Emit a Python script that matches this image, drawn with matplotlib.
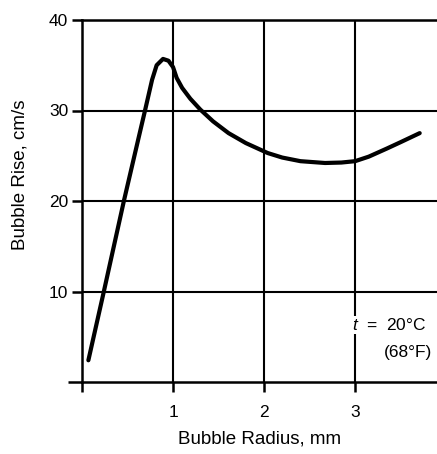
import matplotlib
matplotlib.use("Agg")
import matplotlib.pyplot as plt
from matplotlib.ticker import FixedLocator

plt.rcParams['font.family'] = ['Liberation Sans', 'DejaVu Sans']
plt.rcParams['mathtext.fontset'] = 'custom'
plt.rcParams['mathtext.it'] = 'Liberation Sans:italic'
plt.rcParams['mathtext.rm'] = 'Liberation Sans'

# bubble radius (mm) vs terminal rise velocity (cm/s) in water
radius = [0.07, 0.24, 0.46, 0.62, 0.69, 0.77, 0.82, 0.89, 0.95, 1.00,
          1.04, 1.10, 1.19, 1.30, 1.44, 1.61, 1.80, 2.04, 2.20, 2.40,
          2.67, 2.85, 3.00, 3.15, 3.35, 3.50, 3.71]
rise = [2.4, 10.0, 20.0, 26.9, 29.9, 33.4, 35.0, 35.7, 35.5, 34.8,
        33.6, 32.5, 31.3, 30.1, 28.8, 27.5, 26.4, 25.3, 24.8, 24.4,
        24.2, 24.25, 24.4, 24.9, 25.8, 26.5, 27.5]

xticks = [1, 2, 3]
yticks = [10, 20, 30, 40]

fig = plt.figure(figsize=(4.37, 4.54), dpi=100)
ax = fig.add_axes([82 / 437, 72 / 454, 355 / 437, 362 / 454])

ax.plot(radius, rise, color='black', lw=3.0, solid_capstyle='round',
        solid_joinstyle='round', zorder=3)

ax.set_xlim(0, 3.9)
ax.set_ylim(0, 40)

ax.xaxis.set_major_locator(FixedLocator(xticks))
ax.yaxis.set_major_locator(FixedLocator(yticks))
ax.xaxis.set_minor_locator(FixedLocator([0]))
ax.yaxis.set_minor_locator(FixedLocator([0]))
ax.set_xticklabels([str(v) for v in xticks])
ax.set_yticklabels([str(v) for v in yticks])

ax.tick_params(axis='x', which='both', direction='out', length=7.5,
               width=1.8, pad=9, labelsize=12.5)
ax.tick_params(axis='y', which='major', direction='out', length=7,
               width=1.8, pad=3, labelsize=12.5)
ax.tick_params(axis='y', which='minor', direction='out', length=10,
               width=1.8)

ax.grid(True, which='major', color='black', lw=1.5)
ax.set_axisbelow(True)

for side in ['left', 'bottom', 'top']:
    ax.spines[side].set_linewidth(1.8)
ax.spines['right'].set_visible(False)

ax.set_xlabel('Bubble Radius, mm', fontsize=13.5)
ax.set_ylabel('Bubble Rise, cm/s', fontsize=13.5)
ax.xaxis.set_label_coords(0.5, -0.135)
ax.yaxis.set_label_coords(-0.152, 0.572)

ax.text(3.78, 6.3, r'$t$  =  20°C', fontsize=12.5, ha='right', va='center',
        bbox=dict(facecolor='white', edgecolor='none', pad=1), zorder=4)
ax.text(3.85, 3.3, '(68°F)', fontsize=12.5, ha='right', va='center', zorder=4)

fig.savefig('out.png', dpi=100)
